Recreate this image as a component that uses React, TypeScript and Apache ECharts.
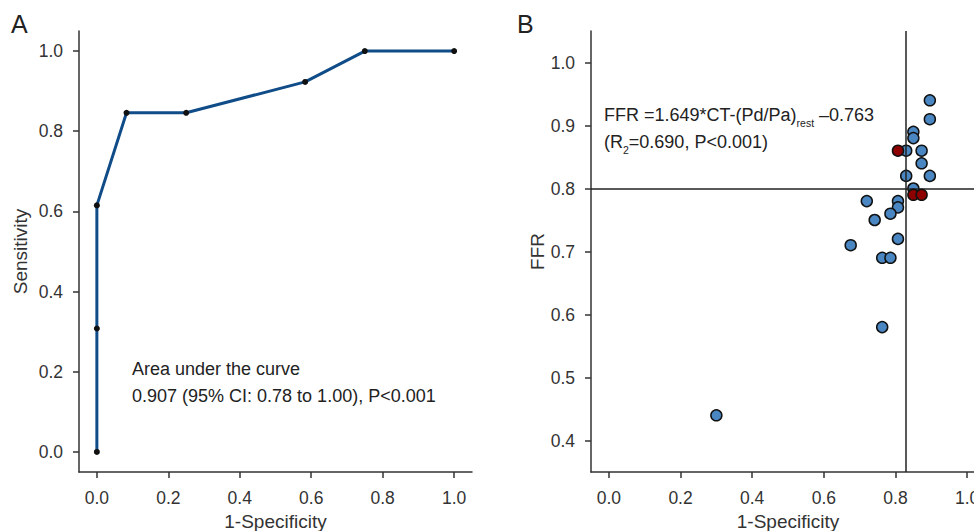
import React, { useEffect, useRef } from "react";
import * as echarts from "echarts";

// Panel A: ROC curve (1-Specificity, Sensitivity)
const rocX = [0, 0, 0, 0.083, 0.25, 0.583, 0.75, 1.0];
const rocY = [0, 0.308, 0.615, 0.846, 0.846, 0.923, 1.0, 1.0];

// Panel B: scatter (1-Specificity, FFR)
const blueX = [0.896, 0.896, 0.85, 0.85, 0.83, 0.873, 0.873, 0.83, 0.896, 0.85, 0.72, 0.807, 0.807, 0.786, 0.742, 0.807, 0.675, 0.763, 0.786, 0.763, 0.30];
const blueY = [0.94, 0.91, 0.89, 0.88, 0.86, 0.86, 0.84, 0.82, 0.82, 0.80, 0.78, 0.78, 0.77, 0.76, 0.75, 0.72, 0.71, 0.69, 0.69, 0.58, 0.44];
const redX = [0.807, 0.85, 0.873];
const redY = [0.86, 0.79, 0.79];
const cutX = 0.83;
const cutY = 0.8;

// tick labels
const xTicks = [0, 0.2, 0.4, 0.6, 0.8, 1.0];
const yTicksA = [0, 0.2, 0.4, 0.6, 0.8, 1.0];
const yTicksB = [0.4, 0.5, 0.6, 0.7, 0.8, 0.9, 1.0];

const FONT = "Liberation Sans, Arial, Helvetica, sans-serif";
const TXT = "#333";
const AX = "#333";

function axisCommon(ticks: number[], name: string, nameGap: number, isX: boolean) {
  return {
    type: "value" as const,
    name,
    nameLocation: "middle" as const,
    nameGap,
    nameTextStyle: { fontSize: 19, color: TXT, fontFamily: FONT },
    splitLine: { show: false },
    axisLine: { show: true, onZero: false, lineStyle: { color: AX, width: 1.5 } },
    axisTick: { show: true, length: 6, lineStyle: { color: AX, width: 1.5 }, customValues: ticks },
    axisLabel: {
      fontSize: 17.5,
      color: TXT,
      fontFamily: FONT,
      margin: isX ? 17 : 16,
      customValues: ticks,
      formatter: (v: number) => v.toFixed(1),
    },
  };
}

export default function App() {
  const ref = useRef<HTMLDivElement>(null);
  useEffect(() => {
    if (!ref.current) return;
    const chart = echarts.init(ref.current, null, { renderer: "svg" });
    const markerStyle = { borderColor: "#111", borderWidth: 1.5 };
    chart.setOption({
      animation: false,
      backgroundColor: "#fff",
      textStyle: { fontFamily: FONT },
      grid: [
        { left: 79, top: 31, width: 393, height: 441, outerBoundsMode: "none", containLabel: false },
        { left: 591, top: 31, width: 394, height: 441, outerBoundsMode: "none", containLabel: false },
      ],
      xAxis: [
        { gridIndex: 0, min: -0.05, max: 1.05, ...axisCommon(xTicks, "1-Specificity", 40, true) },
        { gridIndex: 1, min: -0.05, max: 1.05, ...axisCommon(xTicks, "1-Specificity", 40, true) },
      ],
      yAxis: [
        { gridIndex: 0, min: -0.05, max: 1.05, ...axisCommon(yTicksA, "Sensitivity", 49, false) },
        { gridIndex: 1, min: 0.35, max: 1.05, ...axisCommon(yTicksB, "FFR", 34, false) },
      ],
      series: [
        {
          type: "line",
          xAxisIndex: 0,
          yAxisIndex: 0,
          data: rocX.map((x, i) => [x, rocY[i]]),
          symbol: "circle",
          symbolSize: 6,
          showSymbol: true,
          itemStyle: { color: "#111" },
          lineStyle: { color: "#0f4c88", width: 3 },
          z: 3,
        },
        {
          type: "scatter",
          xAxisIndex: 1,
          yAxisIndex: 1,
          data: blueX.map((x, i) => [x, blueY[i]]),
          symbolSize: 11,
          itemStyle: { color: "#4a87c2", ...markerStyle, opacity: 1 },
          markLine: {
            silent: true,
            symbol: "none",
            label: { show: false },
            lineStyle: { color: "#222", width: 1.5, type: "solid" },
            data: [{ xAxis: cutX }, { yAxis: cutY }],
          },
          z: 4,
        },
        {
          type: "scatter",
          xAxisIndex: 1,
          yAxisIndex: 1,
          data: redX.map((x, i) => [x, redY[i]]),
          symbolSize: 11,
          itemStyle: { color: "#8e0000", ...markerStyle, opacity: 1 },
          z: 5,
        },
      ],
      graphic: [
        { type: "text", left: 11, top: 11, style: { text: "A", fontSize: 25, fill: "#222", fontFamily: FONT } },
        { type: "text", left: 517, top: 11, style: { text: "B", fontSize: 25, fill: "#222", fontFamily: FONT } },
        {
          type: "text",
          left: 132,
          top: 355,
          style: {
            text: "Area under the curve\n0.907 (95% CI: 0.78 to 1.00), P<0.001",
            fontSize: 18,
            lineHeight: 27,
            fill: "#222",
            fontFamily: FONT,
          },
        },
        {
          type: "text",
          left: 604,
          top: 101,
          style: {
            text: "FFR =1.649*CT-(Pd/Pa){sub|rest} \u20130.763\n(R{sub|2}=0.690, P<0.001)",
            fontSize: 18,
            lineHeight: 27,
            fill: "#222",
            fontFamily: FONT,
            rich: {
              sub: { fontSize: 10.5, lineHeight: 25, verticalAlign: "bottom", fill: "#222", fontFamily: FONT },
            },
          },
        },
      ],
    });
    return () => chart.dispose();
  }, []);
  return <div ref={ref} style={{ position: "absolute", left: 0, top: 0, width: 974, height: 531 }} />;
}
